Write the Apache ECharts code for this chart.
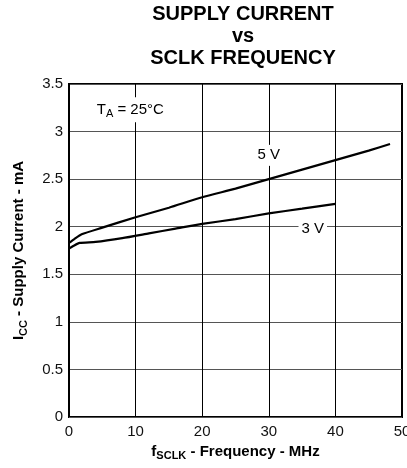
<!DOCTYPE html>
<html>
<head>
<meta charset="utf-8">
<script src="https://cdn.jsdelivr.net/npm/echarts@6/dist/echarts.min.js"></script>
<style>
html,body{margin:0;padding:0;background:#fff;}
#c{width:407px;height:468px;}
</style>
</head>
<body>
<div id="c"></div>
<script>
// Data
var xTicks = [0, 10, 20, 30, 40, 50];
var yTicks = [0, 0.5, 1, 1.5, 2, 2.5, 3, 3.5];
var freq5V = [0, 0.8, 1.9, 5, 10, 15, 20, 25, 30, 35, 40, 45, 48.2];
var icc5V  = [1.83, 1.87, 1.92, 1.99, 2.10, 2.20, 2.31, 2.40, 2.50, 2.60, 2.70, 2.80, 2.87];
var freq3V = [0, 0.7, 1.6, 4, 8, 12, 16, 20, 25, 30, 35, 40];
var icc3V  = [1.77, 1.80, 1.83, 1.84, 1.88, 1.93, 1.98, 2.03, 2.08, 2.14, 2.19, 2.24];
var labels = [
  {coord: [9.2, 3.23], text: '{n|T}{s|A}{n| = 25°C}'},
  {coord: [30, 2.75], text: '{n|5 V}'},
  {coord: [36.6, 1.975], text: '{n|3 V}'}
];

function zip(xs, ys) { return xs.map(function (x, i) { return [x, ys[i]]; }); }

var FONT = 'Liberation Sans, Arial, Helvetica, sans-serif';
var chart = echarts.init(document.getElementById('c'), null, {renderer: 'canvas'});
chart.setOption({
  backgroundColor: '#fff',
  animation: false,
  title: {
    text: 'SUPPLY CURRENT\nvs\nSCLK FREQUENCY',
    left: 238, top: -2, textAlign: 'center',
    textStyle: {fontFamily: FONT, fontSize: 20, fontWeight: 'bold', color: '#000', lineHeight: 22}
  },
  grid: {left: 69, right: 5, top: 84, bottom: 51, show: true, borderColor: '#000', borderWidth: 2,
         containLabel: false, outerBoundsMode: 'none'},
  xAxis: {
    type: 'value', min: xTicks[0], max: xTicks[xTicks.length - 1], interval: 10,
    axisLine: {show: false}, axisTick: {show: false},
    splitLine: {show: true, lineStyle: {color: '#000', width: 1}},
    axisLabel: {fontFamily: FONT, fontSize: 15, color: '#111', margin: 7},
    name: '{b|f}{s|SCLK}{b| - Frequency - MHz}',
    nameLocation: 'middle', nameGap: 24,
    nameTextStyle: {
      rich: {
        b: {fontFamily: FONT, fontSize: 15, fontWeight: 'bold', color: '#000'},
        s: {fontFamily: FONT, fontSize: 11, fontWeight: 'bold', color: '#000', padding: [9, 0, 0, 0]}
      }
    }
  },
  yAxis: {
    type: 'value', min: yTicks[0], max: yTicks[yTicks.length - 1], interval: 0.5,
    axisLine: {show: false}, axisTick: {show: false},
    splitLine: {show: true, lineStyle: {color: '#555', width: 1}},
    axisLabel: {fontFamily: FONT, fontSize: 15, color: '#111', margin: 6},
    name: '{b|I}{s|CC}{b| - Supply Current - mA}',
    nameLocation: 'middle', nameGap: 40, nameRotate: 90,
    nameTextStyle: {
      rich: {
        b: {fontFamily: FONT, fontSize: 15, fontWeight: 'bold', color: '#000'},
        s: {fontFamily: FONT, fontSize: 11, fontWeight: 'bold', color: '#000', padding: [9, 0, 0, 0]}
      }
    }
  },
  series: [
    {
      type: 'line', data: zip(freq5V, icc5V), showSymbol: false, smooth: 0.2,
      lineStyle: {color: '#000', width: 2.2}, z: 3,
      markPoint: {
        symbol: 'rect', symbolSize: 0, silent: true,
        label: {
          show: true, position: 'inside', backgroundColor: '#fff', padding: [3, 3, 3, 3],
          formatter: function (p) { return p.data.text; },
          rich: {
            n: {fontFamily: FONT, fontSize: 15, color: '#000'},
            s: {fontFamily: FONT, fontSize: 11, color: '#000', padding: [8, 0, 0, 0]}
          }
        },
        data: labels.map(function (l) { return {coord: l.coord, text: l.text}; })
      }
    },
    {
      type: 'line', data: zip(freq3V, icc3V), showSymbol: false, smooth: 0.2,
      lineStyle: {color: '#000', width: 2.2}, z: 3
    }
  ]
});
</script>
</body>
</html>
